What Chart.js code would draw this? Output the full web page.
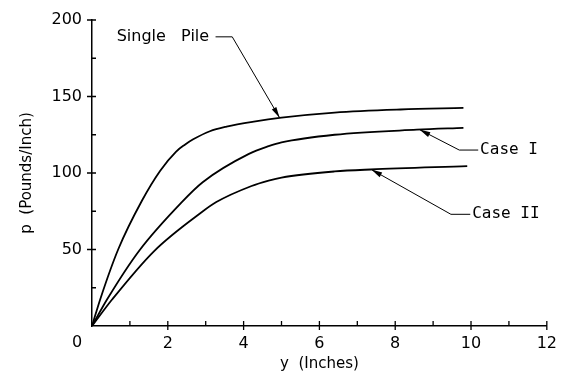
<!DOCTYPE html>
<html>
<head>
<meta charset="utf-8">
<script src="https://cdn.jsdelivr.net/npm/chart.js@4.4.0/dist/chart.umd.min.js"></script>
<style>
html,body{margin:0;padding:0;background:#fff;}
canvas{display:block;}
</style>
</head>
<body>
<canvas id="c" width="565" height="392"></canvas>
<script>
// ---- data ----
const singlePileX = [0, 0.22, 0.69, 1.32, 1.8, 2.22, 2.45, 2.67, 3.11, 3.55, 4.27, 5.0, 6.4, 8.14, 9.8];
const singlePileP = [0, 17.7, 50, 82, 101.5, 114, 118.5, 122, 127.3, 130.3, 133.6, 136.2, 139.5, 141.5, 142.5];
const caseIX = [0, 0.40, 1.25, 2.37, 2.92, 4.14, 4.66, 5.0, 6.4, 8.57, 9.8];
const caseIP = [0, 17.5, 49.4, 81, 94, 112.5, 117.5, 120, 125, 128.3, 129.5];
const caseIIX = [0, 0.53, 1.64, 2.9, 3.28, 4.21, 4.66, 5.0, 6.4, 7.35, 9.9];
const caseIIP = [0, 17.3, 49, 74.5, 81, 91.5, 95.0, 97.0, 101, 102.3, 104.5];
const seriesNames = ['Single Pile', 'Case I', 'Case II'];
const xMajorTicks = [2, 4, 6, 8, 10, 12];
const xMinorTicks = [1, 3, 5, 7, 9, 11];
const yMajorTicks = [50, 100, 150, 200];
const yMinorTicks = [25, 75, 125, 175];
const originLabel = '0';
const xTitle = 'y  (Inches)';
const yTitle = 'p  (Pounds/Inch)';

function pts(xs, ys) { return xs.map((x, i) => ({x: x, y: ys[i]})); }

// callout placement (data coordinates)
const callouts = [
  {text: 'Single   Pile', font: '16px "DejaVu Sans"', textX: 0.65, textP: 189, barA: 3.26, barB: 3.70, bendX: 3.70, tipX: 4.95, tipP: 136.1},
  {text: 'Case I', font: '16px "DejaVu Sans Mono"', textX: 10.24, textP: 115, barA: 9.69, barB: 10.19, bendX: 9.69, tipX: 8.64, tipP: 128.4},
  {text: 'Case II', font: '16px "DejaVu Sans Mono"', textX: 10.03, textP: 73, barA: 9.47, barB: 9.98, bendX: 9.47, tipX: 7.37, tipP: 102.3}
];

const axisTicks = {
  id: 'axisTicks',
  afterDraw(chart) {
    const {ctx, scales: {x, y}} = chart;
    const ax = x.getPixelForValue(0), ay = y.getPixelForValue(0);
    ctx.save();
    ctx.strokeStyle = '#000';
    ctx.lineWidth = 1.3;
    ctx.beginPath();
    yMajorTicks.forEach(v => { const p = y.getPixelForValue(v); ctx.moveTo(ax - 5, p); ctx.lineTo(ax + 4, p); });
    yMinorTicks.forEach(v => { const p = y.getPixelForValue(v); ctx.moveTo(ax, p); ctx.lineTo(ax + 4, p); });
    xMajorTicks.forEach(v => { const p = x.getPixelForValue(v); ctx.moveTo(p, ay - 5); ctx.lineTo(p, ay + 4); });
    xMinorTicks.forEach(v => { const p = x.getPixelForValue(v); ctx.moveTo(p, ay); ctx.lineTo(p, ay - 5); });
    ctx.stroke();
    ctx.fillStyle = '#000';
    ctx.font = '16px "DejaVu Sans"';
    ctx.textAlign = 'center';
    ctx.textBaseline = 'middle';
    ctx.fillText(originLabel, ax - 15, ay + 17);
    ctx.restore();
  }
};

const calloutPlugin = {
  id: 'callouts',
  afterDraw(chart) {
    const {ctx, scales: {x, y}} = chart;
    ctx.save();
    ctx.strokeStyle = '#000';
    ctx.fillStyle = '#000';
    ctx.lineWidth = 1;
    callouts.forEach(c => {
      const ty = y.getPixelForValue(c.textP);
      ctx.font = c.font;
      ctx.textAlign = 'left';
      ctx.textBaseline = 'middle';
      ctx.fillText(c.text, x.getPixelForValue(c.textX), ty);
      const bx = x.getPixelForValue(c.bendX);
      const tx = x.getPixelForValue(c.tipX), tyy = y.getPixelForValue(c.tipP);
      ctx.beginPath();
      ctx.moveTo(x.getPixelForValue(c.barA), ty);
      ctx.lineTo(x.getPixelForValue(c.barB), ty);
      ctx.moveTo(bx, ty);
      ctx.lineTo(tx, tyy);
      ctx.stroke();
      const ang = Math.atan2(tyy - ty, tx - bx);
      const L = 11, W = 2.6;
      const bxx = tx - L * Math.cos(ang), byy = tyy - L * Math.sin(ang);
      ctx.beginPath();
      ctx.moveTo(tx, tyy);
      ctx.lineTo(bxx + W * Math.sin(ang), byy - W * Math.cos(ang));
      ctx.lineTo(bxx - W * Math.sin(ang), byy + W * Math.cos(ang));
      ctx.closePath();
      ctx.fill();
    });
    ctx.restore();
  }
};

const tickFont = {family: 'DejaVu Sans', size: 16};
const titleFont = {family: 'DejaVu Sans', size: 15};

new Chart(document.getElementById('c').getContext('2d'), {
  type: 'line',
  data: {
    datasets: [
      {label: seriesNames[0], data: pts(singlePileX, singlePileP)},
      {label: seriesNames[1], data: pts(caseIX, caseIP)},
      {label: seriesNames[2], data: pts(caseIIX, caseIIP)}
    ]
  },
  options: {
    responsive: false,
    animation: false,
    layout: {padding: {left: 0, right: 15, top: 20, bottom: 0}},
    plugins: {legend: {display: false}, tooltip: {enabled: false}},
    elements: {
      point: {radius: 0},
      line: {borderWidth: 1.8, borderColor: '#000', cubicInterpolationMode: 'monotone', fill: false}
    },
    scales: {
      x: {
        type: 'linear', min: 0, max: 12,
        afterFit(s) { s.height = 66; },
        grid: {display: false, drawTicks: false},
        border: {display: true, color: '#000', width: 1.5},
        ticks: {stepSize: 2, padding: 8, color: '#000', font: tickFont, maxRotation: 0, autoSkip: false,
                callback: v => (v === 0 ? '' : String(v))},
        title: {display: true, text: xTitle, color: '#000', font: titleFont, padding: 19}
      },
      y: {
        type: 'linear', min: 0, max: 200,
        afterFit(s) { s.width = 92; },
        grid: {display: false, drawTicks: false},
        border: {display: true, color: '#000', width: 1.5},
        ticks: {stepSize: 50, padding: 10, color: '#000', font: tickFont,
                callback: v => (v === 0 ? '' : String(v))},
        title: {display: true, text: yTitle, color: '#000', font: titleFont, padding: 18}
      }
    }
  },
  plugins: [axisTicks, calloutPlugin]
});
</script>
</body>
</html>
